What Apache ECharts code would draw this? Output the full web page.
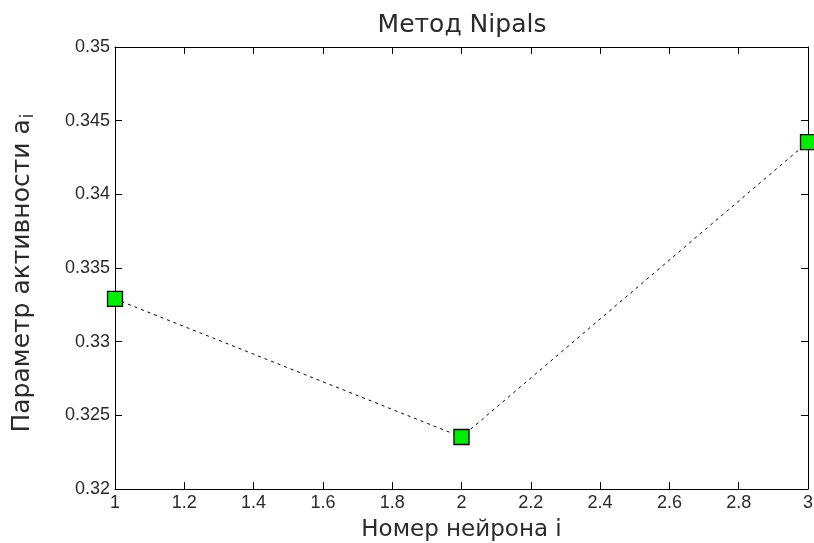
<!DOCTYPE html>
<html>
<head>
<meta charset="utf-8">
<script src="https://cdn.jsdelivr.net/npm/echarts@6/dist/echarts.min.js"></script>
<style>
  html, body { margin: 0; padding: 0; background: #fff; }
  #chart { width: 814px; height: 543px; }
</style>
</head>
<body>
<div id="chart"></div>
<script>
// neuron number and activity parameter
var neurons = [1, 2, 3];
var activity = [0.33290, 0.32353, 0.34355];

var xTicks = { min: 1, max: 3, step: 0.2 };
var yTicks = { min: 0.32, max: 0.35, step: 0.005 };

var chart = echarts.init(document.getElementById('chart'));
var labFont = 'DejaVu Sans';
var tickFont = 'Liberation Sans';
var txt = '#2a2a2a';

var points = neurons.map(function (n, i) { return [n, activity[i]]; });

function fmtX(v) { return String(Math.round(v * 10) / 10); }
function fmtY(v) { return String(Math.round(v * 1000) / 1000); }

var baseX = {
  type: 'value', min: xTicks.min, max: xTicks.max, interval: xTicks.step,
  axisLine: { onZero: false, lineStyle: { color: '#000', width: 1 } },
  axisTick: { inside: true, length: 7, lineStyle: { color: '#000' } },
  splitLine: { show: false }
};
var baseY = {
  type: 'value', min: yTicks.min, max: yTicks.max, interval: yTicks.step,
  axisLine: { onZero: false, lineStyle: { color: '#000', width: 1 } },
  axisTick: { inside: true, length: 7, lineStyle: { color: '#000' } },
  splitLine: { show: false }
};

var option = {
  backgroundColor: '#fff',
  animation: false,
  title: {
    text: 'Метод Nipals',
    left: 457, top: 8, textAlign: 'center',
    textStyle: { fontFamily: labFont, fontSize: 25, fontWeight: 'normal', color: txt }
  },
  grid: { left: 115, right: 6, top: 47, bottom: 54, outerBoundsMode: 'none', containLabel: false },
  xAxis: [
    Object.assign({}, baseX, {
      position: 'bottom',
      name: 'Номер нейрона i', nameLocation: 'middle', nameGap: 30,
      nameTextStyle: { fontFamily: labFont, fontSize: 23, color: txt },
      axisLabel: { formatter: fmtX, margin: 5, fontFamily: tickFont, fontSize: 18, color: txt }
    }),
    Object.assign({}, baseX, { position: 'top', axisLabel: { show: false } })
  ],
  yAxis: [
    Object.assign({}, baseY, {
      position: 'left',
      name: 'Параметр активности a{sub|i}', nameLocation: 'middle', nameGap: 78,
      nameTextStyle: {
        fontFamily: labFont, fontSize: 25, color: txt, padding: [0, 10, 0, 0],
        rich: { sub: { fontFamily: labFont, fontSize: 17, color: txt, verticalAlign: 'bottom', padding: [13, 0, 0, 1] } }
      },
      axisLabel: { formatter: fmtY, margin: 5, fontFamily: tickFont, fontSize: 18, color: txt }
    }),
    Object.assign({}, baseY, { position: 'right', axisLabel: { show: false } })
  ],
  series: [{
    type: 'line',
    data: points,
    symbol: 'rect',
    symbolSize: 15,
    clip: false,
    itemStyle: { color: '#00ee00', borderColor: '#000', borderWidth: 1.3 },
    lineStyle: { color: '#000', width: 1, type: [3, 4] }
  }]
};

chart.setOption(option);
</script>
</body>
</html>
